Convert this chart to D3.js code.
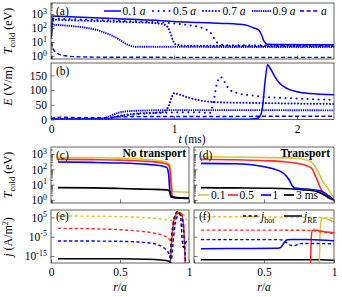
<!DOCTYPE html>
<html>
<head>
<meta charset="utf-8">
<script src="https://cdn.jsdelivr.net/npm/d3@7"></script>
<style>
body { margin: 0; background: #fff; }
svg text { font-family: "Liberation Serif", "DejaVu Serif", serif; fill: #000; }
</style>
</head>
<body>
<svg id="fig" width="342" height="297"></svg>
<script>
// (a) T_cold (eV) vs t (ms) at fixed radii
const tcold01 = [[0,40],[0.008,250],[0.02,720],[0.05,700],[0.2,620],[0.5,480],[0.9,330],[1.0,290],[1.2,250],[1.4,215],[1.52,190],[1.6,150],[1.65,100],[1.69,70],[1.71,35],[1.73,12],[1.76,7],[1.85,6.6],[2.3,6.5]];
const tcold05 = [[0,30],[0.01,250],[0.025,480],[0.05,470],[0.3,400],[0.6,320],[0.9,250],[1.0,215],[1.11,165],[1.2,120],[1.26,80],[1.3,42],[1.33,16],[1.36,8],[1.42,6],[2.3,5.8]];
const tcold07 = [[0,25],[0.01,200],[0.025,400],[0.05,390],[0.3,330],[0.6,270],[0.85,225],[0.92,180],[0.95,110],[0.97,45],[0.99,14],[1.01,7],[1.08,5.5],[2.3,5.2]];
const tcold09 = [[0,20],[0.01,120],[0.025,170],[0.1,155],[0.2,130],[0.3,100],[0.37,75],[0.44,45],[0.5,28],[0.56,14],[0.62,6.5],[0.7,4.6],[2.3,4.4]];
const tcoldEdge = [[0,10],[0.02,3],[0.05,1.6],[0.1,1.1],[0.2,0.9],[0.5,0.82],[2.3,0.8]];
const radiusLabels = ["0.1", "0.5", "0.7", "0.9", ""];

// (b) E (V/m) vs t (ms)
const efield01 = [[0,0.5],[1.6,1],[1.67,3],[1.7,12],[1.72,45],[1.74,130],[1.76,186],[1.78,175],[1.82,145],[1.86,122],[1.92,105],[2.0,94],[2.1,88],[2.3,84]];
const efield05 = [[0,1],[0.45,2],[0.55,10],[0.7,18],[1.0,24],[1.2,25],[1.29,22],[1.32,60],[1.35,125],[1.38,144],[1.41,128],[1.45,102],[1.52,89],[1.63,82],[1.73,77],[1.87,74],[2.06,70],[2.3,67]];
const efield07 = [[0,1],[0.45,2],[0.55,12],[0.7,20],[0.9,24],[0.95,40],[0.98,75],[1.0,89],[1.05,84],[1.12,74],[1.2,66],[1.3,60],[1.4,58],[1.7,56],[2.0,54],[2.3,53]];
const efield09 = [[0,1.5],[0.3,2],[0.42,4],[0.48,12],[0.55,23],[0.65,29],[0.8,31],[1.0,32],[1.5,32],[2.3,31]];
const efieldEdge = [[0,3],[0.08,8],[0.15,7],[0.3,6],[0.45,6],[0.55,9],[0.8,10],[1.3,10],[1.8,11],[2.3,11]];

// (c) T_cold vs r/a, no transport, t = 0.1, 0.5, 1, 3 ms
const tNoTr01 = [[0.05,600],[0.3,580],[0.5,540],[0.6,500],[0.7,440],[0.8,350],[0.84,280],[0.86,200],[0.868,60],[0.875,8],[0.885,3.6],[0.95,3.3],[1,3.2]];
const tNoTr05 = [[0.05,450],[0.3,430],[0.5,400],[0.7,330],[0.8,270],[0.85,200],[0.862,100],[0.87,10],[0.88,1.6],[0.95,1.35],[1,1.3]];
const tNoTr1 = [[0.05,300],[0.3,285],[0.5,260],[0.7,210],[0.8,170],[0.84,130],[0.852,50],[0.86,5],[0.87,1.5],[0.95,1.3],[1,1.25]];
const tNoTr3 = [[0.05,6.3],[0.3,6.1],[0.5,5.6],[0.7,5.0],[0.84,4.6],[0.86,3.6],[0.87,1.8],[0.9,1.4],[1,1.3]];

// (d) T_cold vs r/a, with transport
const tTr01 = [[0.05,660],[0.4,620],[0.7,540],[0.76,500],[0.8,430],[0.84,300],[0.88,90],[0.92,16],[0.955,6],[0.98,2.5],[1,1.3]];
const tTr05 = [[0.05,450],[0.3,420],[0.55,360],[0.65,310],[0.74,245],[0.8,180],[0.84,117],[0.87,33],[0.91,4.5],[0.955,1.4],[1,1.0]];
const tTr1 = [[0.05,245],[0.3,230],[0.43,190],[0.55,118],[0.64,55],[0.68,20],[0.705,7.5],[0.72,5.9],[0.8,5.2],[0.9,4.0],[0.93,3.0],[0.96,1.9],[1,1.0]];
const tTr3 = [[0.05,6.3],[0.3,6.1],[0.55,5.8],[0.785,4.6],[0.88,3.5],[0.93,2.1],[1,1.0]];
const timeLabels = ["0.1", "0.5", "1", "3 ms"];

// (e) log10 j (A/m^2) vs r/a, no transport (hot = dashed, RE = solid)
const jhotNoTr01 = [[0.05,5.7],[0.3,5.6],[0.5,5.35],[0.65,5.0],[0.75,4.5],[0.82,3.9],[0.86,3.4],[0.88,3.6],[0.9,5.5],[0.92,7.2],[0.95,7.4],[0.97,5],[1,2]];
const jhotNoTr05 = [[0.05,-0.7],[0.3,-0.9],[0.5,-1.4],[0.65,-2.2],[0.75,-3.2],[0.82,-4.6],[0.86,-6.5],[0.875,-8],[0.885,-2],[0.9,4],[0.92,7],[0.94,7.3],[0.955,5],[0.965,-2],[0.975,-19]];
const jhotNoTr1 = [[0.05,-7.2],[0.4,-7.3],[0.6,-7.6],[0.7,-8.1],[0.78,-9.3],[0.83,-11.5],[0.86,-14.5],[0.872,-17],[0.882,-10],[0.895,-1],[0.91,4.5],[0.93,6.5],[0.945,5.5],[0.958,0],[0.968,-10],[0.975,-19]];
const jhotNoTr3 = [[0.86,-19],[0.87,-8],[0.885,2],[0.9,6.5],[0.92,8.1],[0.935,6.8],[0.945,0],[0.952,-8],[0.96,-10.5],[0.97,-9],[0.985,-7],[1,-6.3]];
const jreNoTr05 = [[0.865,-19],[0.873,-9],[0.885,1],[0.9,5.5],[0.92,7.6],[0.94,7.2],[0.955,4],[0.965,-4],[0.972,-19]];
const jreNoTr3 = [[0.05,-16.4],[0.5,-16.4],[0.7,-16.6],[0.8,-17.1],[0.85,-17.6],[0.865,-18.3],[0.875,-19]];

// (f) log10 j vs r/a, with transport
const jhotTr01 = [[0.05,5.3],[0.3,5.3],[0.6,5.2],[0.8,5.05],[0.9,4.9],[1,4.6]];
const jreTr01 = [[0.895,-19],[0.9,-5],[0.905,2],[0.915,4.5],[0.93,4.6],[0.96,4.0],[1,2.5]];
const jhotTr05 = [[0.05,-1.6],[0.5,-1.6],[0.8,-1.7],[0.84,-1.8],[0.9,-2.5],[1,-3.3]];
const jreTr05 = [[0.833,-19],[0.838,-5],[0.845,-1.9],[0.86,-1.6],[0.9,-2],[0.95,-2.6],[1,-3.0]];
const jhotTr1 = [[0.05,-6.5],[0.4,-6.5],[0.6,-6.5],[0.63,-6.7],[0.66,-8],[0.69,-9.5],[0.72,-9.6],[0.75,-8.6],[0.8,-8.5],[1,-8.7]];
const jreTr1 = [[0.05,-11.2],[0.4,-11.1],[0.6,-11],[0.62,-10.5],[0.645,-8],[0.665,-6.6],[0.7,-6.4],[0.8,-6.5],[0.9,-6.7],[1,-7.1]];
const jreTr3 = [[0.05,-16.9],[0.5,-16.9],[0.9,-16.9],[1,-17.2]];

const tTicks = [0, 1, 2];
const rTicks = [0, 0.5, 1];
const eTicks = [0, 50, 100, 150];
const jTicks = [5, -5, -15];

const blue = "#0000ff", red = "#ff2b2b", yellow = "#d8c43e", black = "#000";
const frameColor = "#3a3a3a";

const svg = d3.select("#fig");
const defs = svg.append("defs");
let clipN = 0;

const panel = (box, xDomain, yScale) => {
	const x = d3.scaleLinear().domain(xDomain).range([box.x0, box.x1]);
	const y = yScale.range([box.y1, box.y0]);
	const id = "clip" + (clipN++);
	defs.append("clipPath").attr("id", id).append("rect")
		.attr("x", box.x0).attr("y", box.y0)
		.attr("width", box.x1 - box.x0).attr("height", box.y1 - box.y0);
	const g = svg.append("g");
	const plot = g.append("g").attr("clip-path", `url(#${id})`);
	return { x, y, g, plot, box };
};

const frame = (p) => {
	p.g.append("rect")
		.attr("x", p.box.x0).attr("y", p.box.y0)
		.attr("width", p.box.x1 - p.box.x0).attr("height", p.box.y1 - p.box.y0)
		.attr("fill", "none").attr("stroke", frameColor).attr("stroke-width", 0.8);
};

const styleAxis = (ax) => {
	ax.select(".domain").remove();
	ax.selectAll(".tick line").attr("stroke", frameColor).attr("stroke-width", 0.7);
	ax.selectAll(".tick text").attr("font-family", "Liberation Serif, serif").attr("font-size", 11.5);
	ax.attr("font-family", null);
};

const xAxis = (p, ticks, labels, labelList) => {
	const ax = p.g.append("g").attr("transform", `translate(0,${p.box.y1})`)
		.call(d3.axisBottom(p.x).tickValues(ticks).tickSize(-3.5).tickPadding(5)
			.tickFormat(d => labels ? (labelList ? (labelList.includes(d) ? d3.format("")(d) : "") : d3.format("")(d)) : ""));
	styleAxis(ax);
	return ax;
};

const superLabels = (ax, expOf) => {
	ax.selectAll(".tick text").each(function(d) {
		const t = d3.select(this);
		t.text("10");
		t.append("tspan").attr("dy", -4.5).attr("font-size", 8).text(expOf(d));
	});
};

const logYAxis = (p, decades, labels) => {
	const minors = [];
	decades.forEach(e => { for (let k = 2; k < 10; k++) minors.push(k * Math.pow(10, e)); });
	const [lo, hi] = p.y.domain();
	p.g.append("g").attr("transform", `translate(${p.box.x0},0)`)
		.call(d3.axisLeft(p.y).tickValues(minors.filter(v => v > lo && v < hi)).tickSize(-2).tickFormat(""))
		.call(styleAxis);
	const ax = p.g.append("g").attr("transform", `translate(${p.box.x0},0)`)
		.call(d3.axisLeft(p.y).tickValues(decades.map(e => Math.pow(10, e)).filter(v => v > lo && v < hi))
			.tickSize(-3.5).tickPadding(4).tickFormat(labels ? (d => d) : ""));
	styleAxis(ax);
	if (labels) superLabels(ax, d => Math.round(Math.log10(d)));
};

const drawLines = (p, series, yAcc) => {
	const line = d3.line()
		.x(d => p.x(d[0]))
		.y(d => p.y(yAcc ? yAcc(d[1]) : d[1]))
		.curve(d3.curveMonotoneX);
	p.plot.selectAll(null).data(series).enter().append("path")
		.attr("d", s => line(s.data))
		.attr("fill", "none")
		.attr("stroke", s => s.color)
		.attr("stroke-width", s => s.width)
		.attr("stroke-dasharray", s => s.dash || null)
		.attr("stroke-linecap", s => s.cap || "butt")
		.attr("stroke-linejoin", "round");
};

const label = (x, y, txt, opts = {}) => {
	const t = svg.append("text").attr("x", x).attr("y", y)
		.attr("font-size", opts.size || 11.5)
		.attr("text-anchor", opts.anchor || "start");
	if (opts.bold) t.attr("font-weight", "bold");
	return t.text(txt);
};

const yTitle = (cx, cy, build) => {
	const t = svg.append("text")
		.attr("transform", `translate(${cx},${cy}) rotate(-90)`)
		.attr("text-anchor", "middle").attr("font-size", 12);
	build(t);
};

const tcoldTitle = (t) => {
	t.append("tspan").attr("font-style", "italic").text("T");
	t.append("tspan").attr("font-size", 8.5).attr("dy", 2.5).text("cold");
	t.append("tspan").attr("dy", -2.5).text(" (eV)");
};

// radius line styles
const radiusStyles = [
	{ color: blue, width: 1.5 },
	{ color: blue, width: 2, dash: "0.01,5.5", cap: "round" },
	{ color: blue, width: 2, dash: "0.01,3.2", cap: "round" },
	{ color: blue, width: 1.9, dash: "1.3,0.9" },
	{ color: blue, width: 1.4, dash: "4,2.6" }
];

// ---------- (a) ----------
const pa = panel({ x0: 51, x1: 334, y0: 3, y1: 59 }, [0, 2.3],
	d3.scaleLog().domain([Math.pow(10, -0.21), Math.pow(10, 3.79)]));
drawLines(pa, [tcoldEdge, tcold09, tcold07, tcold05, tcold01].map((d, i) => Object.assign({ data: d }, radiusStyles[4 - i])));
logYAxis(pa, [-1, 0, 1, 2, 3], true);
xAxis(pa, tTicks, false);
frame(pa);
label(56, 15, "(a)");

// legend (a)
const legA = [
	{ x1: 104, x2: 121, tx: 122.5 },
	{ x1: 153, x2: 171, tx: 173 },
	{ x1: 203, x2: 221, tx: 222.5 },
	{ x1: 252, x2: 271, tx: 272.5 },
	{ x1: 300, x2: 318, tx: 321 }
];
legA.forEach((l, i) => {
	const s = radiusStyles[i];
	svg.append("line").attr("x1", l.x1).attr("x2", l.x2).attr("y1", 11).attr("y2", 11)
		.attr("stroke", s.color).attr("stroke-width", s.width)
		.attr("stroke-dasharray", s.dash || null).attr("stroke-linecap", s.cap || "butt");
	const t = label(l.tx, 15, radiusLabels[i] ? radiusLabels[i] + " " : "");
	t.append("tspan").attr("font-style", "italic").text("a");
});

yTitle(12, 31, tcoldTitle);

// ---------- (b) ----------
const pb = panel({ x0: 51, x1: 334, y0: 63, y1: 119.5 }, [0, 2.3],
	d3.scaleLinear().domain([0, 192]));
drawLines(pb, [efieldEdge, efield09, efield07, efield05, efield01].map((d, i) => Object.assign({ data: d }, radiusStyles[4 - i])));
const axb = pb.g.append("g").attr("transform", `translate(${pb.box.x0},0)`)
	.call(d3.axisLeft(pb.y).tickValues(eTicks).tickSize(-3.5).tickPadding(4));
styleAxis(axb);
xAxis(pb, tTicks, true);
frame(pb);
label(56, 75, "(b)");
yTitle(12, 86, (t) => {
	t.append("tspan").attr("font-style", "italic").text("E");
	t.append("tspan").text(" (V/m)");
});
const tt = label(192, 143, "", { anchor: "middle" });
tt.append("tspan").attr("font-style", "italic").text("t");
tt.append("tspan").text(" (ms)");

// ---------- (c) & (d) ----------
const timeStyles = [
	{ color: yellow, width: 1.6 },
	{ color: red, width: 1.6 },
	{ color: blue, width: 1.6 },
	{ color: black, width: 1.7 }
];
const tcDomain = [Math.pow(10, -0.2), Math.pow(10, 3.46)];
const pc = panel({ x0: 51, x1: 189, y0: 147, y1: 203 }, [0, 1], d3.scaleLog().domain(tcDomain));
drawLines(pc, [tNoTr01, tNoTr05, tNoTr1, tNoTr3].map((d, i) => Object.assign({ data: d }, timeStyles[i])));
logYAxis(pc, [-1, 0, 1, 2, 3], true);
xAxis(pc, rTicks, false);
frame(pc);
label(56, 159, "(c)");
label(186, 157, "No transport", { anchor: "end", bold: true, size: 11.5 });
yTitle(12, 175, tcoldTitle);

const pd = panel({ x0: 194, x1: 334, y0: 147, y1: 203 }, [0, 1], d3.scaleLog().domain(tcDomain));
drawLines(pd, [tTr01, tTr05, tTr3, tTr1].map((d, i) => Object.assign({ data: d }, timeStyles[[0, 1, 3, 2][i]])));
logYAxis(pd, [-1, 0, 1, 2, 3], false);
xAxis(pd, rTicks, false);
frame(pd);
label(199, 159, "(d)");
label(330, 157, "Transport", { anchor: "end", bold: true, size: 11.5 });

// legend (d)
const legD = [
	{ x1: 198, x2: 209, tx: 211 },
	{ x1: 228, x2: 238, tx: 239.5 },
	{ x1: 261, x2: 271, tx: 272.5 },
	{ x1: 284, x2: 294, tx: 296 }
];
legD.forEach((l, i) => {
	const s = timeStyles[i];
	svg.append("line").attr("x1", l.x1).attr("x2", l.x2).attr("y1", 195).attr("y2", 195)
		.attr("stroke", s.color).attr("stroke-width", s.width);
	label(l.tx, 199, timeLabels[i]);
});

// ---------- (e) & (f) ----------
const jDomain = [Math.pow(10, -18.6), Math.pow(10, 8.8)];
const hot = (c) => ({ color: c, width: 1.4, dash: "3.2,2.4" });
const re = (c) => ({ color: c, width: 1.5 });
const exp10 = v => Math.pow(10, v);

const pe = panel({ x0: 51, x1: 189, y0: 210, y1: 263 }, [0, 1], d3.scaleLog().domain(jDomain));
drawLines(pe, [
	Object.assign({ data: jreNoTr3 }, re(black)),
	Object.assign({ data: jhotNoTr01 }, hot(yellow)),
	Object.assign({ data: jreNoTr05 }, re(red)),
	Object.assign({ data: jhotNoTr05 }, hot(red)),
	Object.assign({ data: jhotNoTr1 }, hot(blue)),
	Object.assign({ data: jhotNoTr3 }, hot(black))
], exp10);
const axe = pe.g.append("g").attr("transform", `translate(${pe.box.x0},0)`)
	.call(d3.axisLeft(pe.y).tickValues(jTicks.map(exp10)).tickSize(-3.5).tickPadding(4).tickFormat(d => d));
styleAxis(axe);
superLabels(axe, d => Math.round(Math.log10(d)));
xAxis(pe, rTicks, true);
frame(pe);
label(56, 220, "(e)");
yTitle(12, 237, (t) => {
	t.append("tspan").attr("font-style", "italic").text("j");
	t.append("tspan").text(" (A/m");
	t.append("tspan").attr("font-size", 8).attr("dy", -4.5).text("2");
	t.append("tspan").attr("dy", 4.5).text(")");
});

const pf = panel({ x0: 194, x1: 334, y0: 210, y1: 263 }, [0, 1], d3.scaleLog().domain(jDomain));
drawLines(pf, [
	Object.assign({ data: jreTr3 }, re(black)),
	Object.assign({ data: jhotTr01 }, hot(yellow)),
	Object.assign({ data: jreTr01 }, re(yellow)),
	Object.assign({ data: jhotTr05 }, hot(red)),
	Object.assign({ data: jreTr05 }, re(red)),
	Object.assign({ data: jhotTr1 }, hot(blue)),
	Object.assign({ data: jreTr1 }, re(blue))
], exp10);
const axf = pf.g.append("g").attr("transform", `translate(${pf.box.x0},0)`)
	.call(d3.axisLeft(pf.y).tickValues(jTicks.map(exp10)).tickSize(-3.5).tickFormat(""));
styleAxis(axf);
xAxis(pf, rTicks, true, [0.5, 1]);
frame(pf);
label(199, 220, "(f)");

// legend (f)
svg.append("line").attr("x1", 243).attr("x2", 259).attr("y1", 216).attr("y2", 216)
	.attr("stroke", black).attr("stroke-width", 1.5).attr("stroke-dasharray", "3.2,2.4");
const lh = label(261, 220, "");
lh.append("tspan").attr("font-style", "italic").text("j");
lh.append("tspan").attr("font-size", 8).attr("dy", 2.5).text("hot");
svg.append("line").attr("x1", 284).attr("x2", 302).attr("y1", 216).attr("y2", 216)
	.attr("stroke", black).attr("stroke-width", 1.5);
const lr = label(304, 220, "");
lr.append("tspan").attr("font-style", "italic").text("j");
lr.append("tspan").attr("font-size", 8).attr("dy", 2.5).text("RE");

const r1 = label(120, 291, "", { anchor: "middle" });
r1.append("tspan").attr("font-style", "italic").text("r");
r1.append("tspan").text("/");
r1.append("tspan").attr("font-style", "italic").text("a");
const r2 = label(264, 291, "", { anchor: "middle" });
r2.append("tspan").attr("font-style", "italic").text("r");
r2.append("tspan").text("/");
r2.append("tspan").attr("font-style", "italic").text("a");
</script>
</body>
</html>
